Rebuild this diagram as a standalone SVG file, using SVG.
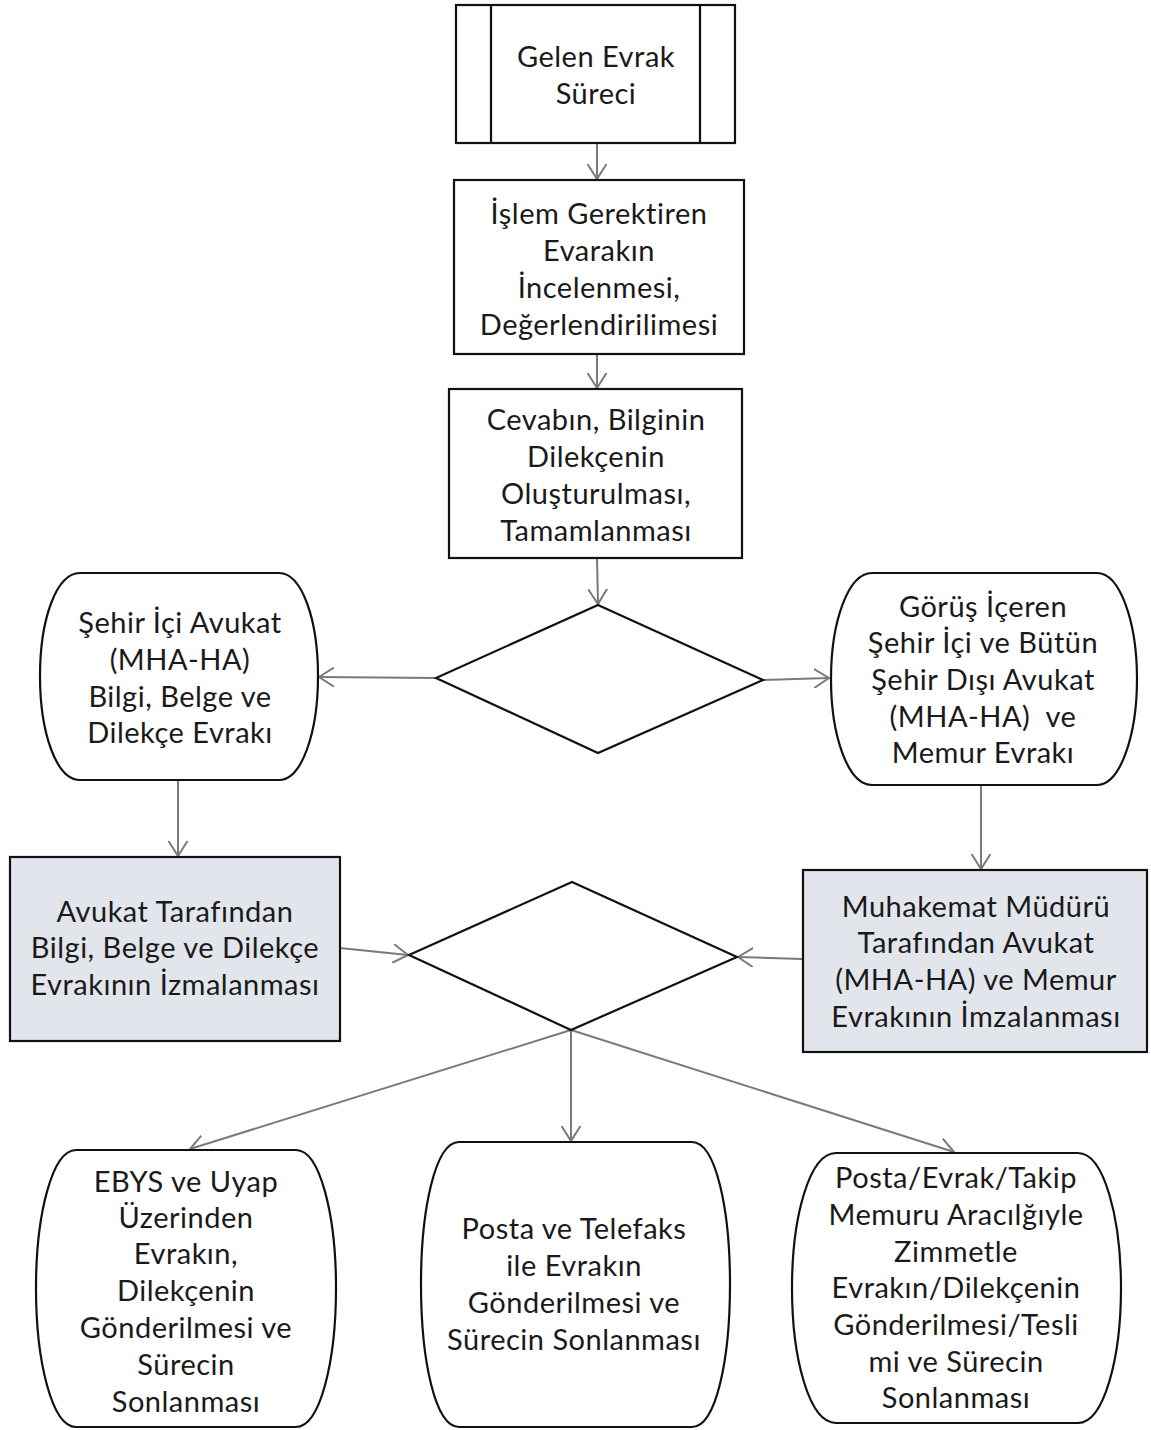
<svg xmlns="http://www.w3.org/2000/svg" width="1151" height="1430" viewBox="0 0 1151 1430">
<defs>
<marker id="arr" viewBox="0 0 16 20" refX="15" refY="10" markerWidth="16" markerHeight="20" markerUnits="userSpaceOnUse" orient="auto">
<path d="M0,0.5 L15,10 L0,19.5" fill="none" stroke="#7a7a7a" stroke-width="2"/>
</marker>
<style>
.n{fill:#ffffff;stroke:#111;stroke-width:2.2}
.s{fill:#e3e5ec;stroke:#111;stroke-width:2.2}
.c{fill:none;stroke:#7a7a7a;stroke-width:2;marker-end:url(#arr)}
text{font-family:Lato,"Open Sans","Liberation Sans",sans-serif;font-size:29px;letter-spacing:0.5px;fill:#1a1a1a;text-anchor:middle}
</style>
</defs>
<rect width="1151" height="1430" fill="#ffffff"/>
<g id="connectors">
<line class="c" x1="597" y1="143" x2="597" y2="179"/>
<line class="c" x1="597" y1="354" x2="597" y2="388"/>
<line class="c" x1="597" y1="558" x2="598" y2="604"/>
<line class="c" x1="436" y1="678" x2="319" y2="677"/>
<line class="c" x1="763" y1="680" x2="829" y2="678"/>
<line class="c" x1="178" y1="780" x2="178" y2="856"/>
<line class="c" x1="981" y1="785" x2="981" y2="869"/>
<line class="c" x1="340" y1="948" x2="408" y2="955"/>
<line class="c" x1="802" y1="959" x2="738" y2="957"/>
<line class="c" x1="571" y1="1030" x2="190" y2="1149"/>
<line class="c" x1="571" y1="1030" x2="571" y2="1141"/>
<line class="c" x1="571" y1="1030" x2="954" y2="1152"/>
</g>
<g id="start">
<rect class="n" x="456" y="5" width="279" height="138"/>
<line x1="491" y1="5" x2="491" y2="143" stroke="#111" stroke-width="2.2"/>
<line x1="700" y1="5" x2="700" y2="143" stroke="#111" stroke-width="2.2"/>
<text x="596" y="67">Gelen Evrak</text>
<text x="596" y="104">Süreci</text>
</g>
<g id="inceleme">
<rect class="n" x="454" y="180" width="290" height="174"/>
<text x="599" y="224">İşlem Gerektiren</text>
<text x="599" y="261">Evarakın</text>
<text x="599" y="298">İncelenmesi,</text>
<text x="599" y="335">Değerlendirilimesi</text>
</g>
<g id="olusturma">
<rect class="n" x="449" y="389" width="293" height="169"/>
<text x="596" y="430">Cevabın, Bilginin</text>
<text x="596" y="467">Dilekçenin</text>
<text x="596" y="504">Oluşturulması,</text>
<text x="596" y="541">Tamamlanması</text>
</g>
<g id="karar1">
<polygon class="n" points="598,605 763,680 598,753 436,678"/>
</g>
<g id="sehir-ici">
<path class="n" d="M80,573 L279,573 C302,573 318,620 318,676 C318,732 302,780 279,780 L80,780 C56,780 40,732 40,676 C40,620 56,573 80,573 Z"/>
<text x="180" y="633">Şehir İçi Avukat</text>
<text x="180" y="670">(MHA-HA)</text>
<text x="180" y="707">Bilgi, Belge ve</text>
<text x="180" y="743">Dilekçe Evrakı</text>
</g>
<g id="gorus">
<path class="n" d="M872,573 L1097,573 C1120,573 1137,622 1137,679 C1137,736 1120,785 1097,785 L872,785 C848,785 831,736 831,679 C831,622 848,573 872,573 Z"/>
<text x="983" y="617">Görüş İçeren</text>
<text x="983" y="653">Şehir İçi ve Bütün</text>
<text x="983" y="690">Şehir Dışı Avukat</text>
<text x="983" y="727" xml:space="preserve">(MHA-HA)  ve</text>
<text x="983" y="763">Memur Evrakı</text>
</g>
<g id="avukat-imza">
<rect class="s" x="10" y="857" width="330" height="184"/>
<text x="175" y="922">Avukat Tarafından</text>
<text x="175" y="958">Bilgi, Belge ve Dilekçe</text>
<text x="175" y="995">Evrakının İzmalanması</text>
</g>
<g id="mudur-imza">
<rect class="s" x="803" y="870" width="344" height="182"/>
<text x="976" y="917">Muhakemat Müdürü</text>
<text x="976" y="953">Tarafından Avukat</text>
<text x="976" y="990">(MHA-HA) ve Memur</text>
<text x="976" y="1027">Evrakının İmzalanması</text>
</g>
<g id="karar2">
<polygon class="n" points="572,882 737,957 571,1030 409,955"/>
</g>
<g id="ebys">
<path class="n" d="M76,1150 L296,1150 C320,1150 336,1215 336,1288 C336,1362 320,1427 296,1427 L76,1427 C52,1427 36,1362 36,1288 C36,1215 52,1150 76,1150 Z"/>
<text x="186" y="1192">EBYS ve Uyap</text>
<text x="186" y="1228">Üzerinden</text>
<text x="186" y="1264">Evrakın,</text>
<text x="186" y="1301">Dilekçenin</text>
<text x="186" y="1338">Gönderilmesi ve</text>
<text x="186" y="1375">Sürecin</text>
<text x="186" y="1412">Sonlanması</text>
</g>
<g id="posta">
<path class="n" d="M459,1142 L692,1142 C716,1142 730,1210 730,1284 C730,1360 716,1427 692,1427 L459,1427 C435,1427 421,1360 421,1284 C421,1210 435,1142 459,1142 Z"/>
<text x="574" y="1239">Posta ve Telefaks</text>
<text x="574" y="1276">ile Evrakın</text>
<text x="574" y="1313">Gönderilmesi ve</text>
<text x="574" y="1350">Sürecin Sonlanması</text>
</g>
<g id="zimmet">
<path class="n" d="M836,1153 L1078,1153 C1104,1153 1121,1218 1121,1288 C1121,1358 1104,1423 1078,1423 L836,1423 C809,1423 792,1358 792,1288 C792,1218 809,1153 836,1153 Z"/>
<text x="956" y="1188">Posta/Evrak/Takip</text>
<text x="956" y="1225">Memuru Aracılğıyle</text>
<text x="956" y="1262">Zimmetle</text>
<text x="956" y="1298">Evrakın/Dilekçenin</text>
<text x="956" y="1335">Gönderilmesi/Tesli</text>
<text x="956" y="1372">mi ve Sürecin</text>
<text x="956" y="1408">Sonlanması</text>
</g>
</svg>
